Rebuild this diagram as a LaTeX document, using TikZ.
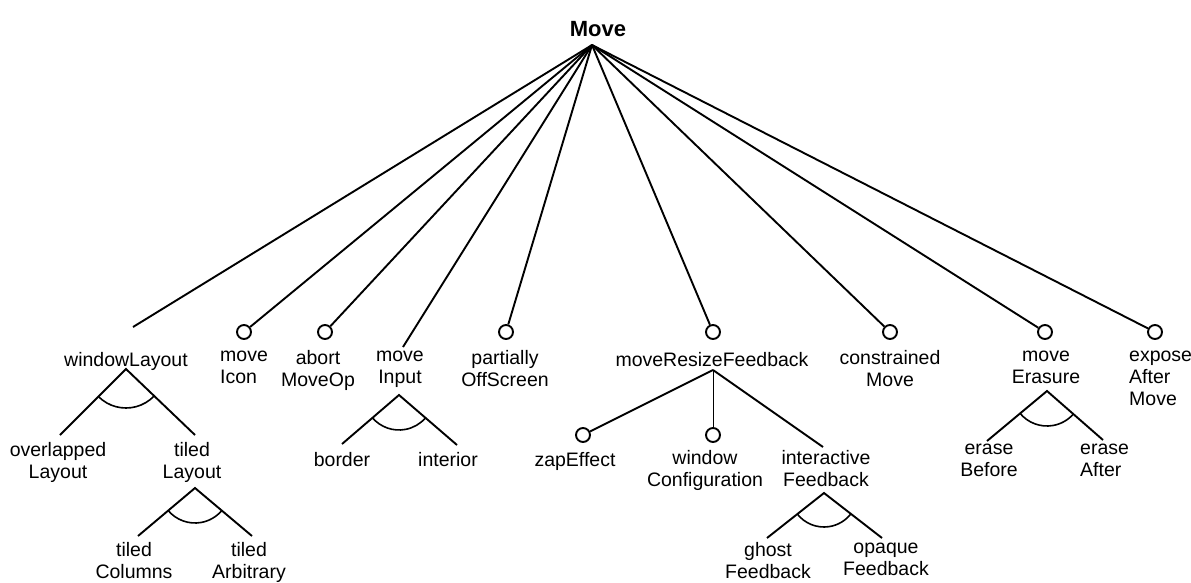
\documentclass[tikz,border=0pt]{standalone}
\usepackage{fontspec}
\setmainfont{Liberation Sans}
\usetikzlibrary{calc}
% arc of an alternative group: apex, left end, right end, radius
\newcommand\grparc[4]{%
  \draw[grp] let \p1=($(#2)-(#1)$), \p2=($(#3)-(#1)$),
    \n1={atan2(\y1,\x1)}, \n2={atan2(\y2,\x2)} in
    ($(#1)!#4!(#2)$) arc[start angle=\n1, end angle=\n2, radius=#4];}
\begin{document}
\begin{tikzpicture}[x=1pt,y=1pt,
  lbl/.style={inner sep=0pt, align=center, anchor=north,
    font=\fontsize{19.5}{22}\selectfont, execute at begin node=\strut},
  lbll/.style={lbl, align=left, anchor=north west},
  opt/.style={circle, draw, line width=1.9pt, minimum size=14pt, inner sep=0pt},
  edge/.style={line width=1.9pt},
  thinedge/.style={line width=1pt},
  grp/.style={line width=1.6pt}]

\useasboundingbox[fill=white] (0,0) rectangle (1191,-582);

% root feature
\node[font=\fontsize{22}{26}\selectfont\bfseries, inner sep=0pt, anchor=base] (root) at (598,-36) {Move};
\coordinate (top) at (592,-45);

% first level: optional features (circles) and labels
\node[opt] (miC) at (244,-332) {};
\node[opt] (amC) at (325,-332) {};
\node[opt] (poC) at (506,-332) {};
\node[opt] (mrC) at (713,-332) {};
\node[opt] (cmC) at (890,-332) {};
\node[opt] (meC) at (1045,-332) {};
\node[opt] (eaC) at (1155,-332) {};
\coordinate (wlE) at (133,-327);
\coordinate (mvE) at (403,-347);

\node[lbl]  (wl) at (126,-350.6) {windowLayout};
\node[lbll] (mi) at (220,-350.6) {move\\Icon};
\node[lbl]  (am) at (318,-350.6) {abort\\MoveOp};
\node[lbl]  (mv) at (400,-350.6) {move\\Input};
\node[lbl]  (po) at (505,-350.6) {partially\\OffScreen};
\node[lbl]  (mr) at (712,-350.6) {moveResizeFeedback};
\node[lbl]  (cm) at (890,-350.6) {constrained\\Move};
\node[lbl]  (me) at (1046,-350.6) {move\\Erasure};
\node[lbll] (ea) at (1129,-350.6) {expose\\After\\Move};

\foreach \t in {wlE,miC,amC,mvE,poC,mrC,cmC,meC,eaC}
  \draw[edge] (top) -- (\t);

% windowLayout group
\coordinate (wlA) at (126,-369);
\coordinate (wlL) at (60,-435);
\coordinate (wlR) at (195,-435);
\draw[edge] (wlL) -- (wlA) -- (wlR);
\grparc{wlA}{wlL}{wlR}{39pt}
\node[lbl] (ol) at (58,-442.6) {overlapped\\Layout};
\node[lbl] (tl) at (192,-442.6) {tiled\\Layout};

% tiledLayout group
\coordinate (tlA) at (195,-488);
\coordinate (tlL) at (138,-536);
\coordinate (tlR) at (252,-536);
\draw[edge] (tlL) -- (tlA) -- (tlR);
\grparc{tlA}{tlL}{tlR}{35pt}
\node[lbl] (tc) at (134,-542.6) {tiled\\Columns};
\node[lbl] (ta) at (249,-542.6) {tiled\\Arbitrary};

% moveInput group
\coordinate (mvA) at (399,-395);
\coordinate (mvL) at (342,-444);
\coordinate (mvR) at (457,-445);
\draw[edge] (mvL) -- (mvA) -- (mvR);
\grparc{mvA}{mvL}{mvR}{35pt}
\node[lbl] (bo) at (342,-450.6) {border};
\node[lbl] (in) at (448,-450.6) {interior};

% moveResizeFeedback children
\coordinate (mrA) at (713,-370);
\node[opt] (zeC) at (583,-435) {};
\node[opt] (wcC) at (713,-435) {};
\coordinate (ifE) at (823,-447);
\draw[edge] (mrA) -- (zeC);
\draw[thinedge] (mrA) -- (wcC);
\draw[edge] (mrA) -- (ifE);
\node[lbl] (ze) at (575,-450.6) {zapEffect};
\node[lbl] (wc) at (705,-450.6) {window\\Configuration};
\node[lbl] (if) at (826,-450.6) {interactive\\Feedback};

% interactiveFeedback group
\coordinate (ifA) at (824,-493);
\coordinate (ifL) at (767,-538);
\coordinate (ifR) at (882,-538);
\draw[edge] (ifL) -- (ifA) -- (ifR);
\grparc{ifA}{ifL}{ifR}{34pt}
\node[lbl] (gf) at (768,-542.6) {ghost\\Feedback};
\node[lbl] (of) at (886,-542.6) {opaque\\Feedback};

% moveErasure group
\coordinate (meA) at (1047,-391);
\coordinate (meL) at (987,-441);
\coordinate (meR) at (1103,-440);
\draw[edge] (meL) -- (meA) -- (meR);
\grparc{meA}{meL}{meR}{35pt}
\node[lbl]  (eb) at (989,-443.6) {erase\\Before};
\node[lbll] (ef) at (1080,-443.6) {erase\\After};

\end{tikzpicture}
\end{document}
